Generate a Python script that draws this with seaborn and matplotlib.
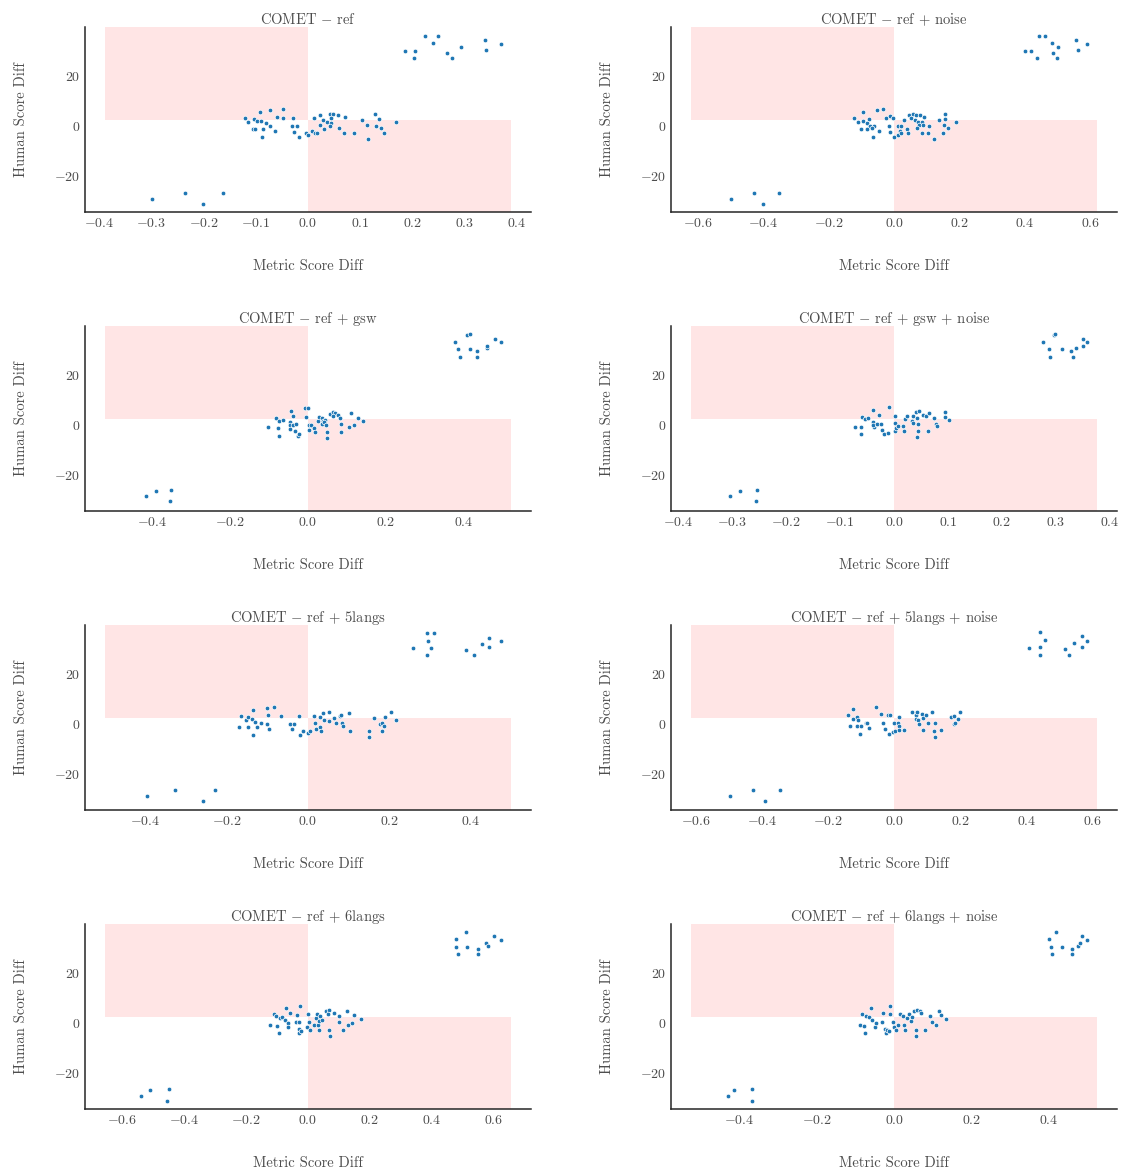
import numpy as np
import pandas as pd
import matplotlib
matplotlib.use("Agg")
import matplotlib.pyplot as plt
import seaborn as sns

# ---- dati (metric score diff, human score diff) ----
titles = [
    "COMET $-$ ref", "COMET $-$ ref $+$ noise",
    "COMET $-$ ref $+$ gsw", "COMET $-$ ref $+$ gsw $+$ noise",
    "COMET $-$ ref $+$ 5langs", "COMET $-$ ref $+$ 5langs $+$ noise",
    "COMET $-$ ref $+$ 6langs", "COMET $-$ ref $+$ 6langs $+$ noise",
]

ref_x = [-0.121, -0.115, -0.092, -0.073, -0.047, -0.103, -0.097, -0.090, -0.080, -0.072, -0.059, -0.047, -0.028,
         -0.106, -0.101, -0.087, -0.088, -0.063, -0.030, -0.021, -0.026, -0.017, -0.004, 0.001, 0.008, 0.013, 0.017,
         0.011, 0.024, 0.024, 0.029, 0.031, 0.037, 0.042, 0.048, 0.044, 0.044, 0.042, 0.058, 0.060, 0.072, 0.069,
         0.088, 0.104, 0.113, 0.115, 0.129, 0.137, 0.131, 0.140, 0.145, 0.169,
         0.187, 0.206, 0.204, 0.225, 0.239, 0.250, 0.266, 0.276, 0.293, 0.339, 0.341, 0.370,
         -0.298, -0.235, -0.202, -0.163]
ref_y = [3.3, 1.7, 5.7, 6.5, 6.8, 2.7, 2.1, 2.0, 1.1, 0.0, 3.7, 3.2, 3.2,
         -1.3, -1.1, -1.3, -4.3, -2.0, 0.1, 0.1, -2.3, -4.3, -2.9, -3.6, -2.0, -2.7, -2.9,
         3.1, 4.5, 0.4, 2.5, -1.2, 1.6, 4.8, 4.8, 3.3, 1.1, 0.1, 4.5, -0.8, 3.7, -2.8,
         -2.8, 2.5, 0.3, -5.2, 4.8, 2.9, 0.0, -0.8, -2.9, 1.6,
         30.1, 30.1, 27.1, 35.9, 33.1, 36.1, 29.3, 27.1, 31.5, 34.3, 30.5, 32.9,
         -29.2, -26.9, -31.2, -26.7]

noise_x = [-0.123, -0.109, -0.096, -0.053, -0.033, -0.094, -0.082, -0.076, -0.073, -0.060, -0.100, -0.082, -0.067,
           -0.063, -0.047, -0.026, -0.012, -0.004, -0.017, -0.013, -0.001, 0.011, 0.011, 0.022, 0.017, 0.021,
           0.029, 0.038, 0.043, 0.045, 0.058, 0.051, 0.066, 0.079, 0.063, 0.073, 0.086, 0.076, 0.088, 0.069,
           0.092, 0.084, 0.103, 0.108, 0.123, 0.138, 0.155, 0.155, 0.151, 0.164, 0.149, 0.190,
           0.398, 0.418, 0.435, 0.441, 0.462, 0.483, 0.484, 0.500, 0.498, 0.554, 0.561, 0.589,
           -0.499, -0.427, -0.401, -0.350]
noise_y = [3.3, 1.7, 5.7, 6.5, 6.8, 2.1, 1.3, 2.7, 0.0, 0.1, -1.3, -1.3, -0.8,
           -4.3, -2.0, 3.2, 3.9, 3.2, 0.1, -2.3, -4.3, -3.6, 0.1, 0.1, -2.0, -2.9,
           2.4, -1.3, -2.7, 4.5, 4.9, 3.3, 4.5, 4.5, 2.5, 1.6, 1.7, 0.4, 0.4, -0.8,
           3.7, -2.8, -2.8, 0.1, -5.2, 2.5, 4.8, 2.9, 0.3, -0.8, -2.8, 1.6,
           30.1, 30.1, 27.1, 35.9, 36.1, 33.1, 29.3, 31.5, 27.1, 34.3, 30.5, 32.9,
           -29.2, -26.9, -31.2, -26.7]

gsw_x = [-0.102, -0.081, -0.073, -0.063, -0.076, -0.073, -0.044, -0.038, -0.047, -0.045, -0.045, -0.038, -0.031,
         -0.032, -0.026, -0.022, -0.008, 0.000, -0.004, 0.003, 0.007, 0.002, 0.015, 0.019, 0.025, 0.028, 0.036,
         0.039, 0.036, 0.044, 0.042, 0.046, 0.049, 0.050, 0.056, 0.063, 0.069, 0.065, 0.078, 0.081, 0.084, 0.086,
         0.105, 0.111, 0.117, 0.127, 0.142,
         0.377, 0.385, 0.389, 0.406, 0.415, 0.416, 0.432, 0.434, 0.458, 0.459, 0.479, 0.494,
         -0.415, -0.388, -0.351, -0.353]
gsw_y = [-0.9, 2.7, 1.7, 2.1, -1.3, -4.3, 5.7, 3.7, 1.1, 0.0, -1.5, 0.1, 0.3,
         -2.5, -4.3, -3.5, 6.7, 6.8, 3.2, 0.1, 0.1, -2.0, -1.1, -2.9, 1.7, 3.2, 2.7,
         1.5, 0.3, 2.0, 1.1, 0.1, -2.8, -5.2, 4.5, 5.1, 4.8, 3.5, 4.0, 2.7, 0.3, -2.8,
         -0.8, 4.7, -0.1, 2.9, 1.6,
         33.2, 30.2, 27.3, 36.0, 36.3, 30.2, 29.4, 27.3, 30.6, 31.7, 34.4, 33.1,
         -28.6, -26.4, -26.1, -30.6]

gsw_noise_x = [-0.073, -0.062, -0.061, -0.059, -0.054, -0.048, -0.039, -0.040, -0.038, -0.039, -0.031, -0.028,
               -0.024, -0.023, -0.019, -0.012, -0.009, 0.001, 0.001, 0.001, 0.004, 0.008, 0.016, 0.019, 0.021,
               0.024, 0.033, 0.035, 0.035, 0.041, 0.042, 0.044, 0.044, 0.042, 0.046, 0.053, 0.059, 0.064, 0.062,
               0.074, 0.077, 0.080, 0.094, 0.094, 0.101,
               0.277, 0.288, 0.290, 0.297, 0.299, 0.312, 0.328, 0.331, 0.338, 0.351, 0.351, 0.358,
               -0.305, -0.286, -0.254, -0.257]
gsw_noise_y = [-0.7, -0.9, -3.8, 3.2, 2.5, 2.6, 6.1, 1.3, -0.9, 0.0, 0.3, 4.1,
               0.5, -2.0, -3.7, -3.2, 7.0, 3.6, 0.7, -2.5, -1.3, -0.5, -0.3, -2.5, 2.4,
               3.4, 1.6, 0.7, 3.7, 5.0, 2.8, 0.4, -2.5, -4.9, 5.4, 4.0, 3.7, 4.9, -2.5,
               2.8, 0.5, -0.5, 3.3, 5.0, 2.0,
               33.2, 30.2, 27.3, 36.0, 36.3, 30.2, 29.4, 27.3, 30.6, 31.7, 34.4, 33.1,
               -28.6, -26.4, -26.1, -30.6]

langs5_x = [-0.169, -0.165, -0.152, -0.148, -0.134, -0.137, -0.129, -0.148, -0.124, -0.135, -0.116, -0.101, -0.083,
            -0.097, -0.100, -0.096, -0.066, -0.044, -0.033, -0.040, -0.021, -0.020, -0.011, 0.000, 0.004, 0.014,
            0.017, 0.020, 0.029, 0.033, 0.030, 0.037, 0.040, 0.052, 0.051, 0.063, 0.068, 0.078, 0.081, 0.083,
            0.085, 0.102, 0.104, 0.149, 0.151, 0.163, 0.177, 0.183, 0.188, 0.181, 0.189, 0.203, 0.217,
            0.259, 0.293, 0.309, 0.296, 0.303, 0.293, 0.388, 0.408, 0.428, 0.444, 0.444, 0.474,
            -0.394, -0.326, -0.257, -0.227]
langs5_y = [-1.3, 3.3, 1.7, 2.7, 5.7, 2.1, 0.9, -1.1, -1.3, -4.3, 0.3, 6.5, 6.8,
            3.7, 0.0, -2.0, 3.2, 0.1, 0.1, -2.1, 3.2, -4.3, -2.9, -3.6, -2.7, 3.2,
            0.3, -2.0, -1.2, -2.8, 2.7, 4.5, 1.7, 4.9, 1.2, 2.3, 0.4, 3.2, 3.7, 0.3,
            -0.8, 4.5, -2.8, -2.8, -5.2, 2.5, 0.1, 0.3, -0.8, -2.8, 2.9, 4.8, 1.6,
            30.4, 36.3, 36.4, 33.3, 30.4, 27.5, 29.5, 27.5, 31.9, 34.5, 30.8, 33.2,
            -28.8, -26.5, -30.8, -26.3]

langs5_noise_x = [-0.140, -0.133, -0.125, -0.125, -0.111, -0.108, -0.111, -0.101, -0.102, -0.086, -0.083, -0.075,
                  -0.054, -0.040, -0.035, -0.026, -0.017, -0.013, -0.014, -0.002, 0.001, 0.002, 0.013, 0.014,
                  0.015, 0.015, 0.031, 0.054, 0.065, 0.067, 0.070, 0.072, 0.074, 0.085, 0.087, 0.087, 0.097,
                  0.101, 0.115, 0.120, 0.125, 0.125, 0.141, 0.171, 0.180, 0.180, 0.185, 0.193, 0.198,
                  0.408, 0.442, 0.457, 0.442, 0.440, 0.515, 0.528, 0.542, 0.568, 0.568, 0.583,
                  -0.497, -0.427, -0.390, -0.344]
langs5_noise_y = [3.6, -0.9, 6.1, 2.1, 2.9, 1.7, -0.7, -0.9, -3.9, 0.4, 0.4, -1.6,
                  6.9, 4.1, 0.5, -1.9, 3.4, 3.4, -3.9, -3.1, 0.5, -2.7, 0.4, -0.7,
                  2.9, -2.5, -2.5, 4.9, 3.4, 2.1, 4.9, 1.7, 0.0, 3.8, 2.3, -2.5, 3.6,
                  0.4, 4.7, -2.7, 0.3, -5.1, -2.5, 2.9, 3.2, 0.0, 0.5, 2.0, 4.9,
                  30.4, 36.8, 33.7, 30.9, 27.5, 30.0, 27.5, 32.4, 35.1, 30.8, 33.2,
                  -28.8, -26.5, -30.8, -26.3]

langs6_x = [-0.123, -0.111, -0.103, -0.100, -0.095, -0.091, -0.084, -0.074, -0.070, -0.065, -0.065, -0.057,
            -0.037, -0.035, -0.028, -0.029, -0.029, -0.025, -0.021, -0.003, 0.001, 0.002, 0.006, 0.020, 0.025,
            0.029, 0.033, 0.035, 0.037, 0.040, 0.046, 0.058, 0.067, 0.066, 0.069, 0.073, 0.085, 0.102, 0.102,
            0.112, 0.130, 0.128, 0.143, 0.149, 0.171,
            0.479, 0.478, 0.485, 0.511, 0.513, 0.550, 0.549, 0.577, 0.583, 0.602, 0.624,
            -0.539, -0.512, -0.450, -0.455]
langs6_y = [-0.8, 3.5, 2.6, -1.2, -4.2, 2.0, 2.4, 1.1, 5.9, 0.1, -1.5, 3.9,
            0.4, 3.2, 0.4, -2.3, -4.0, 6.8, -3.4, -1.7, 3.4, 0.4, -2.8, -0.8, 1.9,
            3.6, -0.7, -2.7, 0.8, 2.6, 1.3, 4.8, 5.2, 3.5, -2.7, -5.1, 3.8, 2.6, 0.3,
            -2.8, -0.7, 4.8, 0.1, 3.1, 1.7,
            33.4, 30.5, 27.4, 36.4, 30.5, 29.5, 27.4, 31.9, 30.7, 34.6, 33.3,
            -29.3, -26.8, -26.6, -31.3]

langs6_noise_x = [-0.088, -0.083, -0.078, -0.074, -0.072, -0.065, -0.059, -0.057, -0.050, -0.048, -0.030, -0.029,
                  -0.023, -0.022, -0.019, -0.013, -0.011, -0.010, -0.003, 0.000, 0.004, 0.011, 0.016, 0.023,
                  0.026, 0.027, 0.033, 0.039, 0.044, 0.046, 0.051, 0.056, 0.056, 0.059, 0.068, 0.070, 0.081,
                  0.093, 0.098, 0.108, 0.116, 0.122, 0.133,
                  0.399, 0.404, 0.408, 0.418, 0.433, 0.458, 0.458, 0.474, 0.481, 0.486, 0.498,
                  -0.428, -0.414, -0.366, -0.366]
langs6_noise_y = [-0.8, 3.5, -1.2, -4.2, 2.6, 2.3, 5.9, 1.2, -1.7, 0.1, 0.4, 4.0,
                  -2.3, -4.0, -2.7, -3.4, 6.8, 3.4, 0.4, -1.7, -2.7, -0.8, 3.4, 2.7,
                  -0.7, -2.7, 1.9, 3.6, 0.7, 2.4, 4.8, -2.7, -5.1, 5.2, 4.8, 3.8, -2.7,
                  2.6, 0.3, -0.7, 4.8, 3.1, 1.7,
                  33.4, 30.5, 27.4, 36.4, 30.5, 29.5, 27.4, 30.7, 31.9, 34.6, 33.3,
                  -29.3, -26.8, -26.6, -31.3]

panels = [(ref_x, ref_y), (noise_x, noise_y), (gsw_x, gsw_y), (gsw_noise_x, gsw_noise_y),
          (langs5_x, langs5_y), (langs5_noise_x, langs5_noise_y),
          (langs6_x, langs6_y), (langs6_noise_x, langs6_noise_y)]

split_y = 2.5
y_lo, y_hi = -34.4, 39.6

sns.set_theme(style="white")
plt.rcParams['font.family'] = 'serif'
plt.rcParams['font.serif'] = ['cmr10']
plt.rcParams['mathtext.fontset'] = 'cm'
plt.rcParams['axes.formatter.use_mathtext'] = True
plt.rcParams['text.color'] = '.3'
plt.rcParams['axes.labelcolor'] = '.3'
plt.rcParams['xtick.color'] = '.3'
plt.rcParams['ytick.color'] = '.3'

fig, axes = plt.subplots(4, 2, figsize=(11.26, 11.73), dpi=100)
fig.subplots_adjust(left=0.0755, right=0.992, bottom=0.0546, top=0.977, wspace=0.315, hspace=0.616)

for ax, title, (xs, ys) in zip(axes.flat, titles, panels):
    df = pd.DataFrame({'metric': xs, 'human': ys})
    lim = np.abs(df['metric']).max() * 1.05
    # zone di disaccordo
    ax.fill_between([-lim, 0], split_y, y_hi, color='red', alpha=0.1, linewidth=0, zorder=0)
    ax.fill_between([0, lim], y_lo, split_y, color='red', alpha=0.1, linewidth=0, zorder=0)
    sns.scatterplot(data=df, x='metric', y='human', ax=ax, s=11, color='#1f77b4',
                    edgecolor='white', linewidth=0.5, zorder=3)
    ax.set_xlim(-lim * 1.1, lim * 1.1)
    ax.set_ylim(y_lo, y_hi)
    ax.set_yticks([-20, 0, 20])
    ax.set_title(title, fontsize=10.5, pad=2)
    ax.set_xlabel('Metric Score Diff', fontsize=10.5, labelpad=21)
    ax.set_ylabel('Human Score Diff', fontsize=10.5, labelpad=19)
    ax.tick_params(labelsize=10, length=0)
    for sp in ['left', 'bottom']:
        ax.spines[sp].set_color('.15')
        ax.spines[sp].set_linewidth(1.1)
    sns.despine(ax=ax)

fig.savefig('out.png', dpi=100)
